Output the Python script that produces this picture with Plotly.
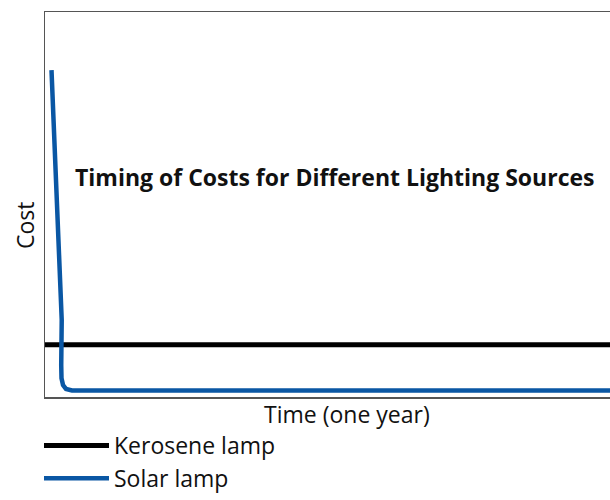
import plotly.graph_objects as go

# Data (arbitrary units)
kerosene_x = [0, 100]
kerosene_y = [13.6, 13.6]
solar_x = [1.15, 1.95, 2.96, 2.87, 2.92, 3.19, 3.72, 4.78, 100]
solar_y = [84.9, 53.8, 20.0, 8.3, 4.9, 3.1, 2.1, 1.7, 1.7]

title_text = "Timing of Costs for Different Lighting Sources"
font_family = "Open Sans, Noto Sans, sans-serif"

W, H = 610, 500


def px(x):
    return x / W


def py(y):
    return 1 - y / H


plot_left, plot_right, plot_top, plot_bottom = 45, 610, 12, 397

fig = go.Figure()
fig.add_trace(go.Scatter(x=kerosene_x, y=kerosene_y, mode="lines", name="Kerosene lamp",
                         line=dict(color="#000000", width=5)))
fig.add_trace(go.Scatter(x=solar_x, y=solar_y, mode="lines", name="Solar lamp",
                         line=dict(color="#0a57a4", width=4.5)))

fig.update_layout(
    width=W, height=H,
    margin=dict(l=0, r=0, t=0, b=0),
    paper_bgcolor="white", plot_bgcolor="white",
    font=dict(family=font_family, size=23, color="#111111"),
    xaxis=dict(domain=[px(plot_left), px(plot_right)], range=[0, 100], showgrid=False,
               zeroline=False, showticklabels=False, ticks="", showline=True, mirror=True,
               linecolor="#555555", linewidth=1.5),
    yaxis=dict(domain=[py(plot_bottom), py(plot_top)], range=[0, 100], showgrid=False,
               zeroline=False, showticklabels=False, ticks="", showline=True,
               linecolor="#555555", linewidth=1.5),
    showlegend=True,
    legend=dict(x=px(39), xanchor="left", y=0, yanchor="bottom", orientation="v",
                font=dict(size=23, color="#111111"), tracegroupgap=0, itemwidth=65,
                bgcolor="rgba(0,0,0,0)"),
    annotations=[
        dict(text="<b>" + title_text + "</b>", x=px(335), y=py(177), xref="paper", yref="paper",
             xanchor="center", yanchor="middle", showarrow=False,
             font=dict(size=23, color="#111111")),
        dict(text="Cost", x=px(25), y=py(225), xref="paper", yref="paper", showarrow=False,
             xanchor="center", yanchor="middle", textangle=-90, font=dict(size=23)),
        dict(text="Time (one year)", x=px(347), y=py(414), xref="paper", yref="paper",
             xanchor="center", yanchor="middle", showarrow=False, font=dict(size=23)),
    ],
)

fig.write_html(
    "out.html",
    config={"displayModeBar": False, "staticPlot": True},
    post_script=(
        "var s=document.createElement('style');"
        "s.textContent='html,body{margin:0;padding:0;width:610px;height:500px;overflow:hidden}"
        ".plotly-graph-div,.svg-container,.main-svg{overflow:hidden !important}';"
        "document.head.appendChild(s);"
    ),
)
